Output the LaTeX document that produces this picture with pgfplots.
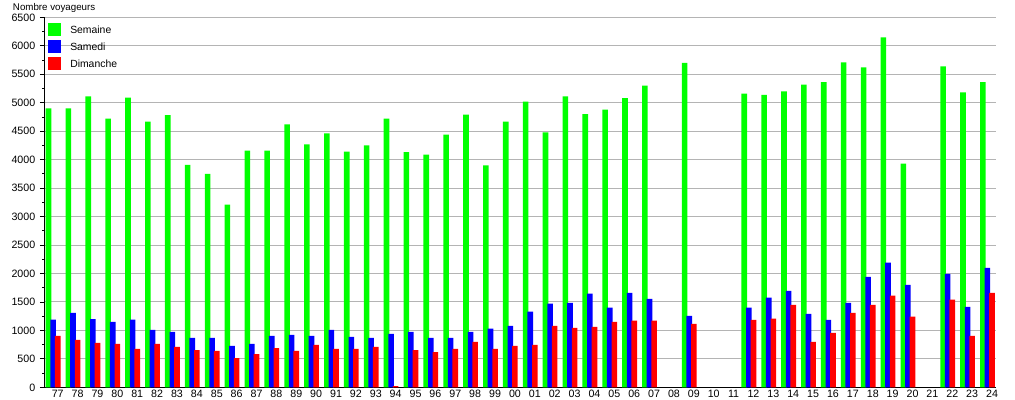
\documentclass[border=0pt]{standalone}
\usepackage{fontspec}
\setmainfont{Liberation Sans}
\usepackage{pgfplots}
\usepackage{pgfplotstable}
\pgfplotsset{compat=1.18}
\definecolor{cgreen}{RGB}{0,255,0}
\definecolor{cblue}{RGB}{0,0,255}
\definecolor{cred}{RGB}{255,0,0}
\definecolor{cgrid}{RGB}{180,180,180}

\pgfplotstableread{
x y
0 4900
1 4900
2 5110
3 4720
4 5090
5 4670
6 4780
7 3910
8 3750
9 3210
10 4160
11 4160
12 4620
13 4270
14 4460
15 4140
16 4250
17 4720
18 4130
19 4090
20 4440
21 4790
22 3900
23 4670
24 5020
25 4480
26 5110
27 4800
28 4880
29 5080
30 5300
32 5700
35 5160
36 5140
37 5200
38 5320
39 5360
40 5710
41 5620
42 6150
43 3930
45 5640
46 5180
47 5360
}\semaine

\pgfplotstableread{
x y
0 1190
1 1310
2 1200
3 1150
4 1190
5 1010
6 975
7 870
8 870
9 730
10 765
11 905
12 920
13 905
14 1010
15 885
16 870
17 940
18 975
19 870
20 870
21 975
22 1030
23 1080
24 1330
25 1470
26 1485
27 1645
28 1400
29 1660
30 1555
32 1255
35 1400
36 1575
37 1695
38 1290
39 1185
40 1485
41 1940
42 2190
43 1800
45 1995
46 1415
47 2100
}\samedi

\pgfplotstableread{
x y
0 905
1 835
2 780
3 765
4 675
5 765
6 710
7 655
8 640
9 515
10 585
11 690
12 640
13 745
14 675
15 675
16 710
17 20
18 655
19 620
20 675
21 800
22 675
23 730
24 745
25 1080
26 1045
27 1060
28 1150
29 1170
30 1170
32 1115
35 1185
36 1205
37 1450
38 800
39 955
40 1310
41 1450
42 1610
43 1240
45 1540
46 905
47 1660
}\dimanche

\begin{document}
\begin{tikzpicture}
\useasboundingbox (-33.75pt,-9.5pt) rectangle (727.5pt,290.5pt);
\begin{axis}[
  at={(0pt,0pt)}, anchor=south west,
  scale only axis,
  width=713.25pt, height=277.5pt,
  xmin=-0.64, xmax=47.2,
  ymin=0, ymax=6500,
  clip=false,
  axis x line*=bottom, axis y line*=left,
  axis line style={black, line width=0.75pt, -},
  xtick={0,...,47},
  xticklabels={77,78,79,80,81,82,83,84,85,86,87,88,89,90,91,92,93,94,95,96,97,98,99,00,01,02,03,04,05,06,07,08,09,10,11,12,13,14,15,16,17,18,19,20,21,22,23,24},
  xtick style={draw=none},
  x tick label style={yshift=5pt},
  ytick distance=500,
  minor y tick num=1,
  tick align=outside,
  major tick length=3.75pt,
  minor tick length=2pt,
  ytick style={black, line width=0.6pt},
  minor y tick style={black, line width=0.6pt},
  ymajorgrids,
  major grid style={cgrid, line width=0.7pt},
  /pgf/number format/1000 sep={},
  /pgf/number format/assume math mode=true,
  ticklabel style={font=\fontsize{8}{9.6}\selectfont},
  ybar,
  bar width=4.2pt,
  legend style={at={(0,1)}, anchor=north west, xshift=2pt, yshift=-3.9pt,
    draw=none, fill=none, inner sep=0pt, row sep=3pt,
    font=\fontsize{7.8}{9.4}\selectfont,
    nodes={inner sep=0pt, yshift=-0.9pt},
    cells={anchor=west},
    /tikz/every odd column/.append style={column sep=7pt}},
]
\addplot[fill=cgreen, draw=none, bar shift=-6.9pt,
  legend image code/.code={\fill[cgreen] (0pt,-4.875pt) rectangle (9.75pt,4.875pt);}]
  table[x=x,y=y]{\semaine};
\addlegendentry{Semaine}
\addplot[fill=cblue, draw=none, bar shift=-3.45pt,
  legend image code/.code={\fill[cblue] (0pt,-4.875pt) rectangle (9.75pt,4.875pt);}]
  table[x=x,y=y]{\samedi};
\addlegendentry{Samedi}
\addplot[fill=cred, draw=none, bar shift=0pt,
  legend image code/.code={\fill[cred] (0pt,-4.875pt) rectangle (9.75pt,4.875pt);}]
  table[x=x,y=y]{\dimanche};
\addlegendentry{Dimanche}
\node[anchor=base west, font=\fontsize{7.3}{8.8}\selectfont, inner sep=0pt]
  at ([xshift=-24.2pt, yshift=5.5pt]rel axis cs:0,1) {Nombre voyageurs};
\end{axis}
\end{tikzpicture}
\end{document}
